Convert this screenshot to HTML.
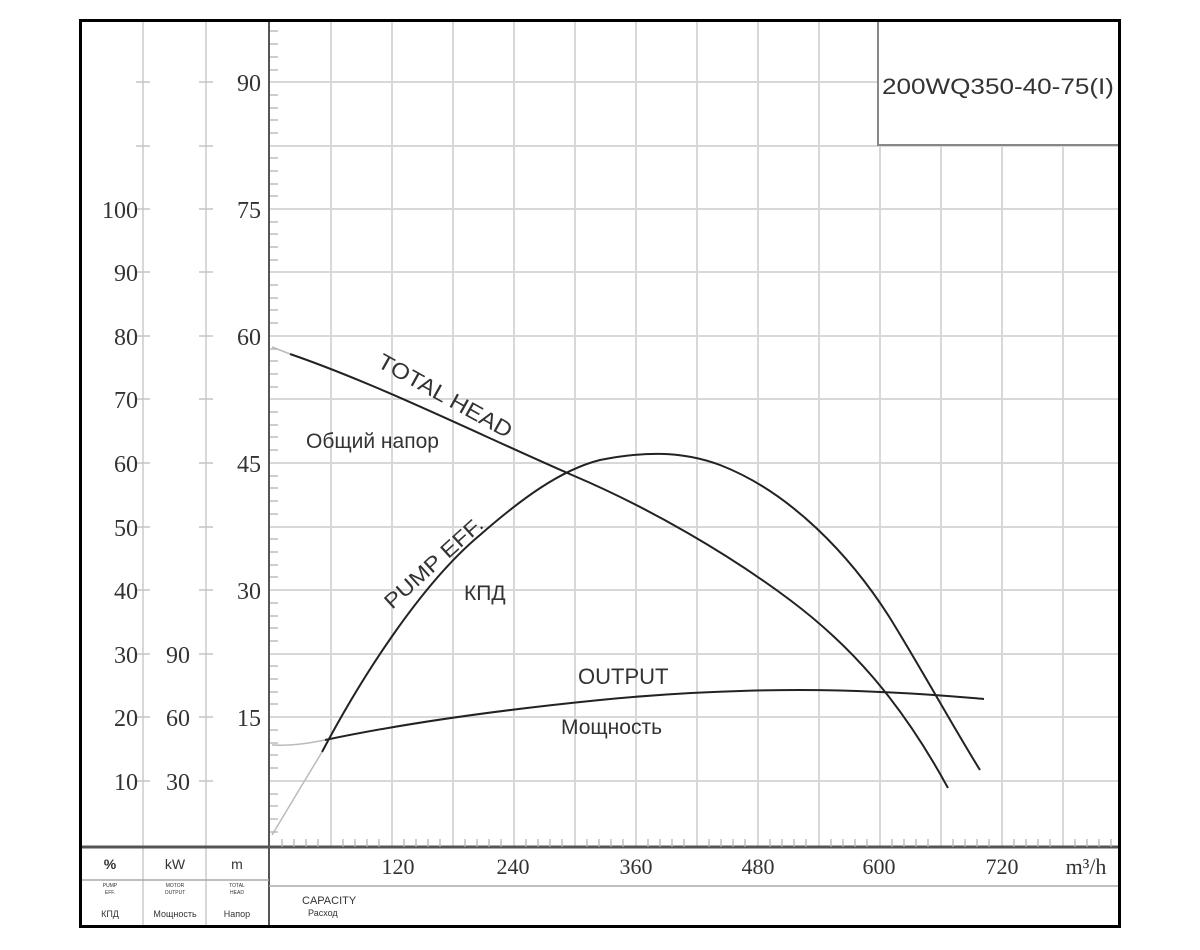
<!DOCTYPE html>
<html><head><meta charset="utf-8"><style>
body{margin:0;background:#fff;}
svg{display:block;}
text{font-family:"Liberation Serif",serif;fill:#333;}
.s{font-family:"Liberation Sans","DejaVu Sans",sans-serif;}
</style></head><body>
<svg width="1200" height="950" viewBox="0 0 1200 950" xmlns="http://www.w3.org/2000/svg">
<rect width="1200" height="950" fill="#fff"/>
<g stroke="#d8d8d8" stroke-width="2">
<line x1="331" y1="20" x2="331" y2="847"/><line x1="392" y1="20" x2="392" y2="847"/>
<line x1="453" y1="20" x2="453" y2="847"/><line x1="514" y1="20" x2="514" y2="847"/>
<line x1="575" y1="20" x2="575" y2="847"/><line x1="636" y1="20" x2="636" y2="847"/>
<line x1="697" y1="20" x2="697" y2="847"/><line x1="758" y1="20" x2="758" y2="847"/>
<line x1="819" y1="20" x2="819" y2="847"/><line x1="880" y1="145" x2="880" y2="847"/>
<line x1="941" y1="145" x2="941" y2="847"/><line x1="1002" y1="145" x2="1002" y2="847"/>
<line x1="1063" y1="145" x2="1063" y2="847"/>
<line x1="143" y1="20" x2="143" y2="926"/><line x1="206" y1="20" x2="206" y2="926"/>
</g>
<g stroke="#d8d8d8" stroke-width="2">
<line x1="270" y1="82" x2="878" y2="82"/><line x1="270" y1="146" x2="1118" y2="146"/>
<line x1="270" y1="209" x2="1118" y2="209"/><line x1="270" y1="272" x2="1118" y2="272"/>
<line x1="270" y1="336" x2="1118" y2="336"/><line x1="270" y1="399" x2="1118" y2="399"/>
<line x1="270" y1="463" x2="1118" y2="463"/><line x1="270" y1="527" x2="1118" y2="527"/>
<line x1="270" y1="590" x2="1118" y2="590"/><line x1="270" y1="654" x2="1118" y2="654"/>
<line x1="270" y1="717" x2="1118" y2="717"/><line x1="270" y1="781" x2="1118" y2="781"/>
</g>
<g stroke="#c4c4c4" stroke-width="1.5">
<line x1="136" y1="82" x2="150" y2="82"/><line x1="136" y1="146" x2="150" y2="146"/><line x1="136" y1="209" x2="150" y2="209"/><line x1="136" y1="272" x2="150" y2="272"/><line x1="136" y1="336" x2="150" y2="336"/><line x1="136" y1="399" x2="150" y2="399"/><line x1="136" y1="463" x2="150" y2="463"/><line x1="136" y1="527" x2="150" y2="527"/><line x1="136" y1="590" x2="150" y2="590"/><line x1="136" y1="654" x2="150" y2="654"/><line x1="136" y1="717" x2="150" y2="717"/><line x1="136" y1="781" x2="150" y2="781"/>
<line x1="199" y1="82" x2="213" y2="82"/><line x1="199" y1="146" x2="213" y2="146"/><line x1="199" y1="209" x2="213" y2="209"/><line x1="199" y1="272" x2="213" y2="272"/><line x1="199" y1="336" x2="213" y2="336"/><line x1="199" y1="399" x2="213" y2="399"/><line x1="199" y1="463" x2="213" y2="463"/><line x1="199" y1="527" x2="213" y2="527"/><line x1="199" y1="590" x2="213" y2="590"/><line x1="199" y1="654" x2="213" y2="654"/><line x1="199" y1="717" x2="213" y2="717"/><line x1="199" y1="781" x2="213" y2="781"/>
</g>
<line x1="269" y1="20" x2="269" y2="926" stroke="#555" stroke-width="2"/>
<line x1="79" y1="847" x2="1120" y2="847" stroke="#555" stroke-width="3"/>
<line x1="79" y1="880" x2="269" y2="880" stroke="#aaa" stroke-width="1.5"/>
<line x1="269" y1="886" x2="1120" y2="886" stroke="#aaa" stroke-width="1.5"/>
<rect x="878" y="20" width="242" height="125" fill="#fff" stroke="#888" stroke-width="2"/>
<text class="s" x="882" y="94" font-size="22" fill="#333" textLength="232" lengthAdjust="spacingAndGlyphs">200WQ350-40-75(I)</text>
<rect x="80.5" y="20.5" width="1039" height="906" fill="none" stroke="#000" stroke-width="3"/>
<g font-size="24" text-anchor="end">
<text x="261" y="91">90</text><text x="261" y="218">75</text><text x="261" y="345">60</text>
<text x="261" y="472">45</text><text x="261" y="599">30</text><text x="261" y="726">15</text>
<text x="138" y="218">100</text><text x="138" y="281">90</text><text x="138" y="345">80</text>
<text x="138" y="408">70</text><text x="138" y="472">60</text><text x="138" y="536">50</text>
<text x="138" y="599">40</text><text x="138" y="663">30</text><text x="138" y="726">20</text>
<text x="138" y="790">10</text>
<text x="190" y="663">90</text><text x="190" y="726">60</text><text x="190" y="790">30</text>
</g>
<g font-size="22" text-anchor="middle">
<text x="398" y="874">120</text><text x="513" y="874">240</text><text x="636" y="874">360</text>
<text x="758" y="874">480</text><text x="879" y="874">600</text><text x="1002" y="874">720</text>
<text x="1086" y="874">m³/h</text>
</g>
<g text-anchor="middle">
<text class="s" x="110" y="869" font-size="14" font-weight="bold">%</text>
<text class="s" x="175" y="869" font-size="14">kW</text>
<text class="s" x="237" y="869" font-size="14">m</text>
<text class="s" x="110" y="887" font-size="5">PUMP</text><text class="s" x="110" y="894" font-size="5">EFF.</text>
<text class="s" x="175" y="887" font-size="5">MOTOR</text><text class="s" x="175" y="894" font-size="5">OUTPUT</text>
<text class="s" x="237" y="887" font-size="5">TOTAL</text><text class="s" x="237" y="894" font-size="5">HEAD</text>
<text class="s" x="110" y="917" font-size="9">КПД</text>
<text class="s" x="175" y="917" font-size="9">Мощность</text>
<text class="s" x="237" y="917" font-size="9">Напор</text>
</g>
<text class="s" x="302" y="904" font-size="11">CAPACITY</text>
<text class="s" x="308" y="916" font-size="9">Расход</text>
<g fill="none" stroke="#222" stroke-width="2">
<path d="M290,354 C380,385 480,435 572,475 C650,508 730,555 790,600 C850,645 900,700 948,788"/>
<path d="M322,752 C360,680 420,585 480,535 C520,500 560,470 600,460 C640,452 680,450 720,465 C790,492 850,555 890,618 C925,675 955,730 980,770"/>
<path d="M325,740 C420,720 520,708 600,700 C700,690 800,688 880,692 C930,694 960,697 984,699"/>
</g>
<g fill="none" stroke="#bbb" stroke-width="1.5">
<path d="M272,835 C290,805 305,780 322,752"/>
<path d="M272,745 C290,746 305,744 325,740"/>
<path d="M272,347 L290,354"/>
</g>
<text class="s" x="376" y="366" font-size="22" transform="rotate(29 376 366)" fill="#111" textLength="150" lengthAdjust="spacingAndGlyphs">TOTAL HEAD</text>
<text class="s" x="306" y="448" font-size="21" fill="#222">Общий напор</text>
<text class="s" x="392" y="610" font-size="21" transform="rotate(-42 392 610)" fill="#111" textLength="125" lengthAdjust="spacingAndGlyphs">PUMP EFF.</text>
<text class="s" x="464" y="600" font-size="21" fill="#222">КПД</text>
<text class="s" x="578" y="684" font-size="22" fill="#111">OUTPUT</text>
<text class="s" x="561" y="734" font-size="21" fill="#222">Мощность</text>
<g stroke="#b0b0b0" stroke-width="1.2">
<path d="M270,31h8M270,44h8M270,57h8M270,70h8M270,95h8M270,108h8M270,120h8M270,133h8M270,158h8M270,171h8M270,184h8M270,196h8M270,222h8M270,234h8M270,247h8M270,260h8M270,285h8M270,298h8M270,310h8M270,323h8M270,349h8M270,361h8M270,374h8M270,387h8M270,412h8M270,425h8M270,437h8M270,450h8M270,476h8M270,488h8M270,501h8M270,514h8M270,539h8M270,552h8M270,565h8M270,577h8M270,603h8M270,616h8M270,628h8M270,641h8M270,666h8M270,679h8M270,692h8M270,704h8M270,730h8M270,743h8M270,755h8M270,768h8M270,794h8M270,806h8M270,819h8M270,832h8"/>
<path d="M282,847v-8M294,847v-8M306,847v-8M318,847v-8M343,847v-8M355,847v-8M367,847v-8M379,847v-8M404,847v-8M416,847v-8M428,847v-8M440,847v-8M465,847v-8M477,847v-8M489,847v-8M501,847v-8M526,847v-8M538,847v-8M550,847v-8M562,847v-8M587,847v-8M599,847v-8M611,847v-8M623,847v-8M648,847v-8M660,847v-8M672,847v-8M684,847v-8M709,847v-8M721,847v-8M733,847v-8M745,847v-8M770,847v-8M782,847v-8M794,847v-8M806,847v-8M831,847v-8M843,847v-8M855,847v-8M867,847v-8M892,847v-8M904,847v-8M916,847v-8M928,847v-8M953,847v-8M965,847v-8M977,847v-8M989,847v-8M1014,847v-8M1026,847v-8M1038,847v-8M1050,847v-8M1075,847v-8M1087,847v-8M1099,847v-8M1111,847v-8"/>
</g>
</svg>
</body></html>
